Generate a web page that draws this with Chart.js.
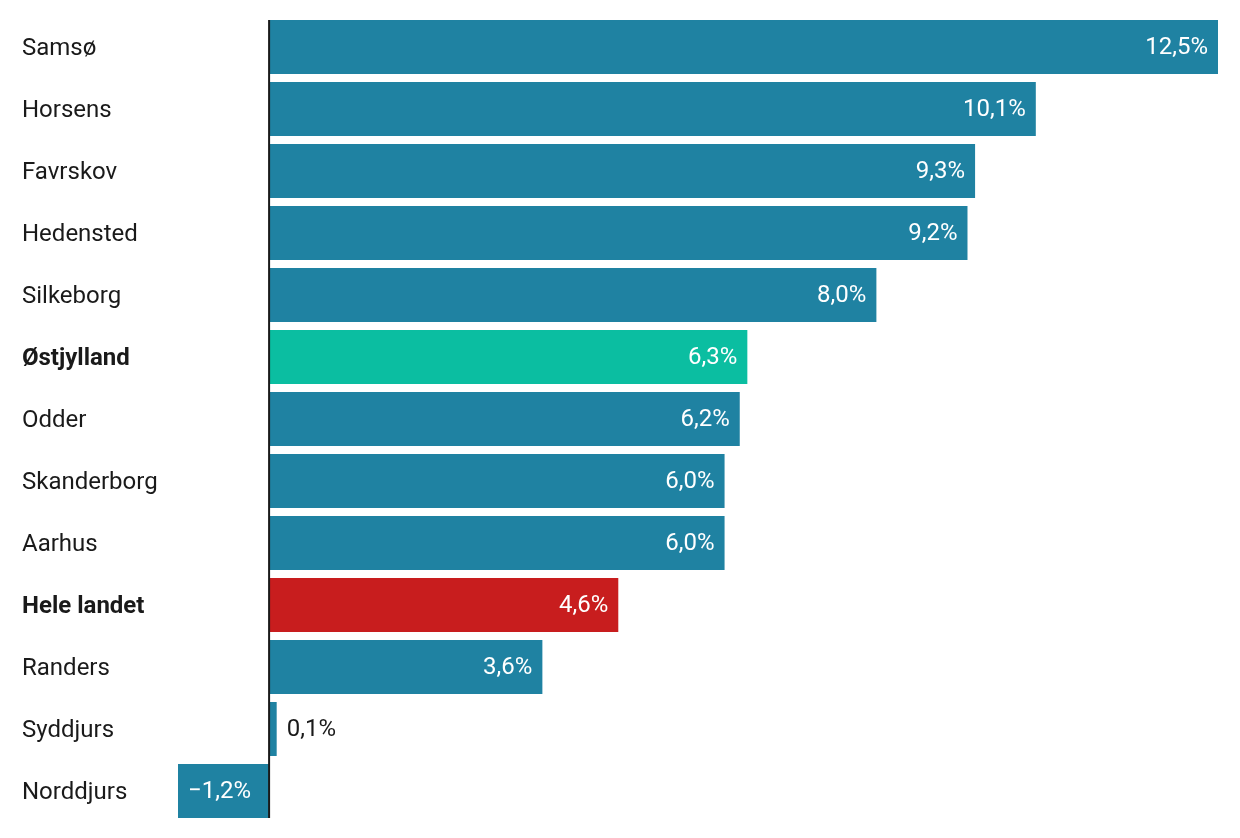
<!DOCTYPE html>
<html>
<head>
<meta charset="utf-8">
<script src="https://cdn.jsdelivr.net/npm/chart.js@4"></script>
<style>
html,body{margin:0;padding:0;background:#fff;}
#wrap{width:1240px;height:838px;position:relative;}
</style>
</head>
<body>
<div id="wrap"><canvas id="c" width="1240" height="838"></canvas></div>
<script>
const categories = ["Samsø","Horsens","Favrskov","Hedensted","Silkeborg","Østjylland","Odder","Skanderborg","Aarhus","Hele landet","Randers","Syddjurs","Norddjurs"];
const values = [12.5,10.1,9.3,9.2,8.0,6.3,6.2,6.0,6.0,4.6,3.6,0.1,-1.2];
const boldCategories = ["Østjylland","Hele landet"];
const highlightColors = {"Østjylland":"#0bbea1","Hele landet":"#c81d1e"};
const baseColor = "#1f82a2";
const FONT = "Roboto, 'Noto Sans', sans-serif";

const fmt = v => (v < 0 ? "\u2212" : "") + Math.abs(v).toFixed(1).replace(".", ",") + "%";

const labelPlugin = {
  id: "labelPlugin",
  afterDatasetsDraw(chart) {
    const ctx = chart.ctx;
    const x = chart.scales.x, y = chart.scales.y;
    const meta = chart.getDatasetMeta(0);
    ctx.save();
    ctx.textBaseline = "middle";
    categories.forEach((c, i) => {
      const yy = y.getPixelForValue(i);
      ctx.font = (boldCategories.includes(c) ? "bold " : "") + "24px " + FONT;
      ctx.fillStyle = "#1a1a1a";
      ctx.textAlign = "left";
      ctx.fillText(c, 22, yy + 2);
    });
    ctx.font = "24px " + FONT;
    values.forEach((v, i) => {
      const bar = meta.data[i];
      const yy = bar.y + 1;
      const x0 = x.getPixelForValue(0);
      const xe = x.getPixelForValue(v);
      const txt = fmt(v);
      const w = ctx.measureText(txt).width;
      const barW = Math.abs(xe - x0);
      const pad = 10;
      if (barW >= w + 2 * pad) {
        ctx.fillStyle = "#ffffff";
        if (v >= 0) { ctx.textAlign = "right"; ctx.fillText(txt, xe - pad, yy); }
        else { ctx.textAlign = "left"; ctx.fillText(txt, xe + pad, yy); }
      } else {
        ctx.fillStyle = "#1a1a1a";
        if (v >= 0) { ctx.textAlign = "left"; ctx.fillText(txt, xe + pad, yy); }
        else { ctx.textAlign = "right"; ctx.fillText(txt, xe - pad, yy); }
      }
    });
    const first = meta.data[0], last = meta.data[meta.data.length - 1];
    const top = first.y - first.height / 2;
    const bottom = last.y + last.height / 2;
    const zx = x.getPixelForValue(0);
    ctx.strokeStyle = "#1a1a1a";
    ctx.lineWidth = 2;
    ctx.beginPath();
    ctx.moveTo(zx, top);
    ctx.lineTo(zx, bottom);
    ctx.stroke();
    ctx.restore();
  }
};

new Chart(document.getElementById("c"), {
  type: "bar",
  data: {
    labels: categories,
    datasets: [{
      data: values,
      backgroundColor: categories.map(c => highlightColors[c] || baseColor),
      borderWidth: 0,
      barPercentage: 54 / 62,
      categoryPercentage: 1.0
    }]
  },
  options: {
    indexAxis: "y",
    responsive: false,
    animation: false,
    devicePixelRatio: 1,
    layout: { padding: { left: 178, right: 22, top: 16, bottom: 16 } },
    plugins: { legend: { display: false }, tooltip: { enabled: false } },
    scales: {
      x: { min: -1.2, max: 12.5, display: false },
      y: { display: false }
    }
  },
  plugins: [labelPlugin]
});
</script>
</body>
</html>
